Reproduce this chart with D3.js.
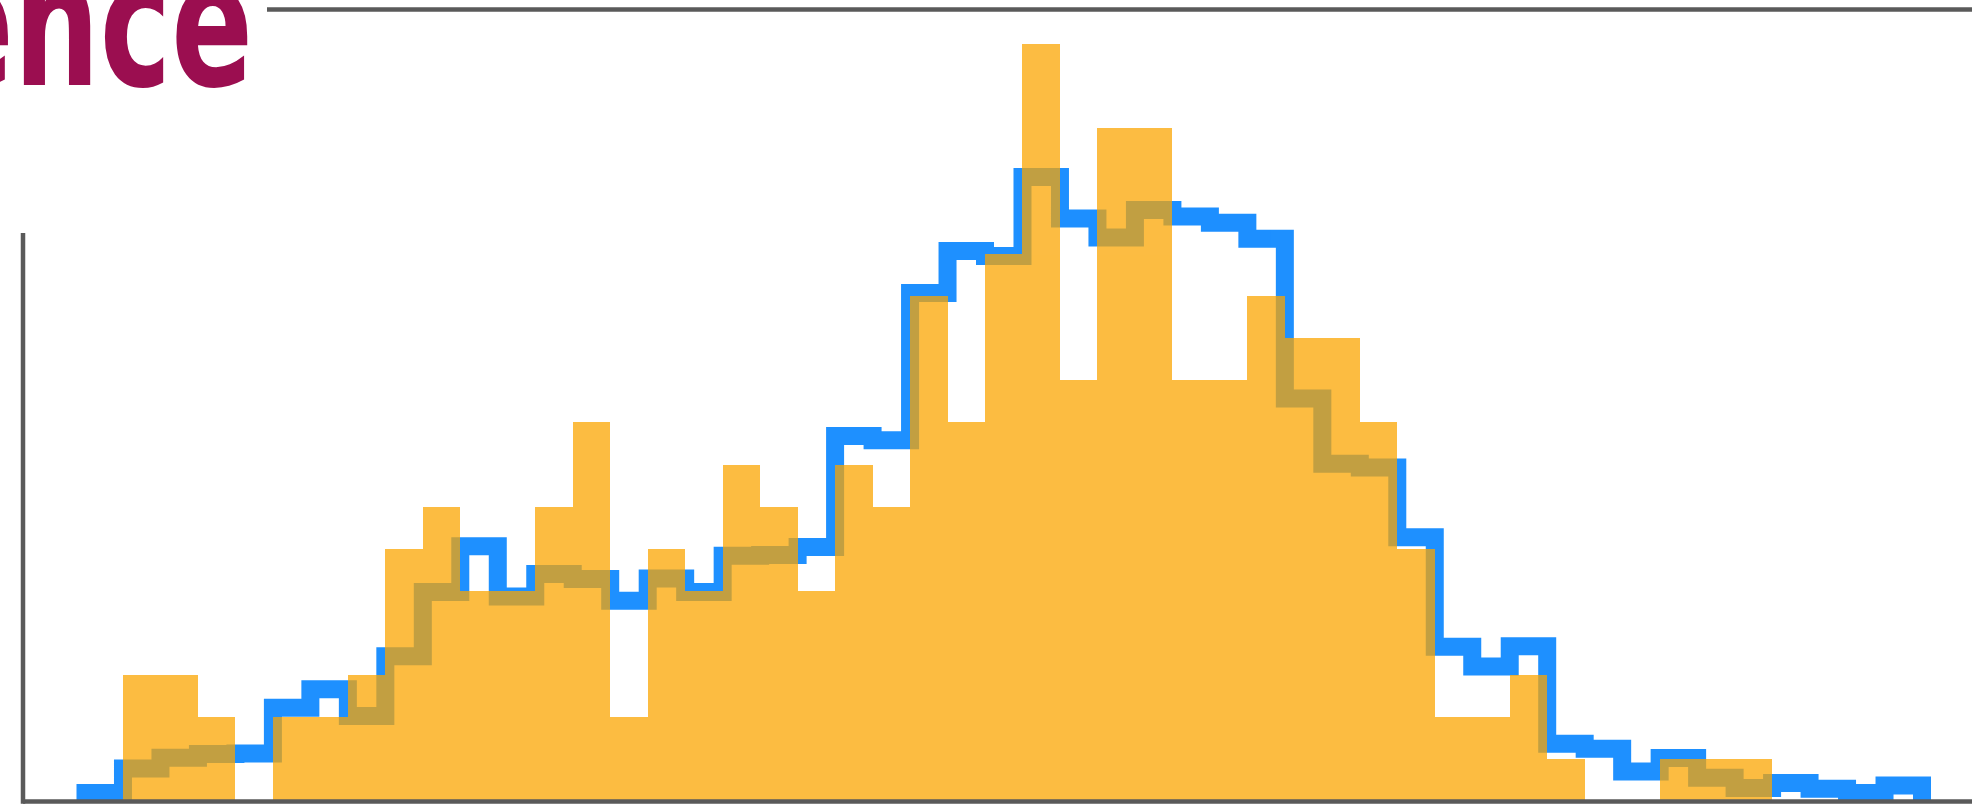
<!DOCTYPE html>
<html>
<head>
<meta charset="utf-8">
<script src="https://cdn.jsdelivr.net/npm/d3@7"></script>
<style>
  html, body { margin: 0; padding: 0; background: #ffffff; }
  svg { display: block; }
</style>
</head>
<body>
<svg id="chart" width="1972" height="807"></svg>
<script>
// Shared bin grid: 49 equal-width bins, edges 0..49
const binCount = 49;

// Sample histogram (counts per bin), drawn as filled bars
const sampleCounts = [
  0, 3, 3, 2, 0, 2, 2, 3, 6, 7, 5, 5, 7, 9, 2, 6, 5, 8, 7, 5, 8, 7, 12, 9, 13,
  18, 10, 16, 16, 10, 10, 12, 11, 11, 9, 6, 2, 2, 3, 1, 0, 0, 1, 1, 1, 0, 0, 0, 0
];

// Reference distribution (scaled to the same count axis), drawn as a step outline
const referenceLevels = [
  0.19, 0.77, 1.03, 1.12, 1.13, 2.22, 2.66, 2.02, 3.44, 4.97, 6.06, 4.86, 5.40,
  5.28, 4.76, 5.29, 4.97, 5.83, 5.85, 6.04, 8.68, 8.58, 12.08, 13.08, 12.96,
  14.84, 13.85, 13.40, 14.05, 13.90, 13.75, 13.37, 9.57, 8.02, 7.93, 6.27, 3.67,
  3.20, 3.68, 1.36, 1.24, 0.70, 1.02, 0.55, 0.31, 0.43, 0.29, 0.19, 0.37
];

const titleText = "Science";

const svg = d3.select("#chart");

const plot = { left: 23, right: 2000, top: 9.5, bottom: 801 };

const x = d3.scaleLinear().domain([0, binCount]).range([85.5, 1922]);
const y = d3.scaleLinear().domain([0, 18.82]).range([plot.bottom, plot.top]);

svg.append("defs").append("clipPath").attr("id", "plotClip")
  .append("rect")
  .attr("x", plot.left).attr("y", plot.top)
  .attr("width", plot.right - plot.left)
  .attr("height", plot.bottom - plot.top + 2);

const body = svg.append("g").attr("clip-path", "url(#plotClip)");

// Step outline of the reference distribution
const stepPts = [[0, 0]];
referenceLevels.forEach((v, i) => stepPts.push([i, v]));
stepPts.push([binCount, referenceLevels[binCount - 1]]);
stepPts.push([binCount, 0]);

const stepLine = d3.line()
  .x(d => x(d[0]))
  .y(d => y(d[1]))
  .curve(d3.curveStepAfter);

body.append("path")
  .datum(stepPts)
  .attr("d", stepLine)
  .attr("fill", "none")
  .attr("stroke", "#1e90ff")
  .attr("stroke-width", 18)
  .attr("stroke-linejoin", "miter")
  .attr("stroke-linecap", "butt");

// Sample bars, translucent over the outline
const bars = body.append("g").attr("opacity", 0.74);
bars.selectAll("rect")
  .data(sampleCounts.map((c, i) => ({ i, c })).filter(d => d.c > 0))
  .join("rect")
  .attr("x", d => x(d.i))
  .attr("width", d => x(d.i + 1) - x(d.i))
  .attr("y", d => y(d.c))
  .attr("height", d => y(0) - y(d.c))
  .attr("fill", "#fba500")
  .attr("shape-rendering", "crispEdges");

// Axis frame
const frame = svg.append("g")
  .attr("fill", "none")
  .attr("stroke", "#5a5a5a")
  .attr("stroke-width", 4.5);
frame.append("line")
  .attr("x1", plot.left).attr("x2", plot.right)
  .attr("y1", y(0) + 0.5).attr("y2", y(0) + 0.5);
frame.append("line")
  .attr("x1", plot.left).attr("x2", plot.left)
  .attr("y1", plot.top).attr("y2", y(0) + 2.75);
frame.append("line")
  .attr("x1", plot.left).attr("x2", plot.right)
  .attr("y1", plot.top).attr("y2", plot.top);

// Title block with its own white backing
svg.append("rect")
  .attr("x", 0).attr("y", 0)
  .attr("width", 267).attr("height", 233)
  .attr("fill", "#ffffff");

svg.append("text")
  .attr("transform", "translate(253,85) scale(0.674,1)")
  .attr("text-anchor", "end")
  .attr("font-family", "'DejaVu Sans', sans-serif")
  .attr("font-weight", "bold")
  .attr("font-size", 179)
  .attr("fill", "#9b0e50")
  .text(titleText);
</script>
</body>
</html>
